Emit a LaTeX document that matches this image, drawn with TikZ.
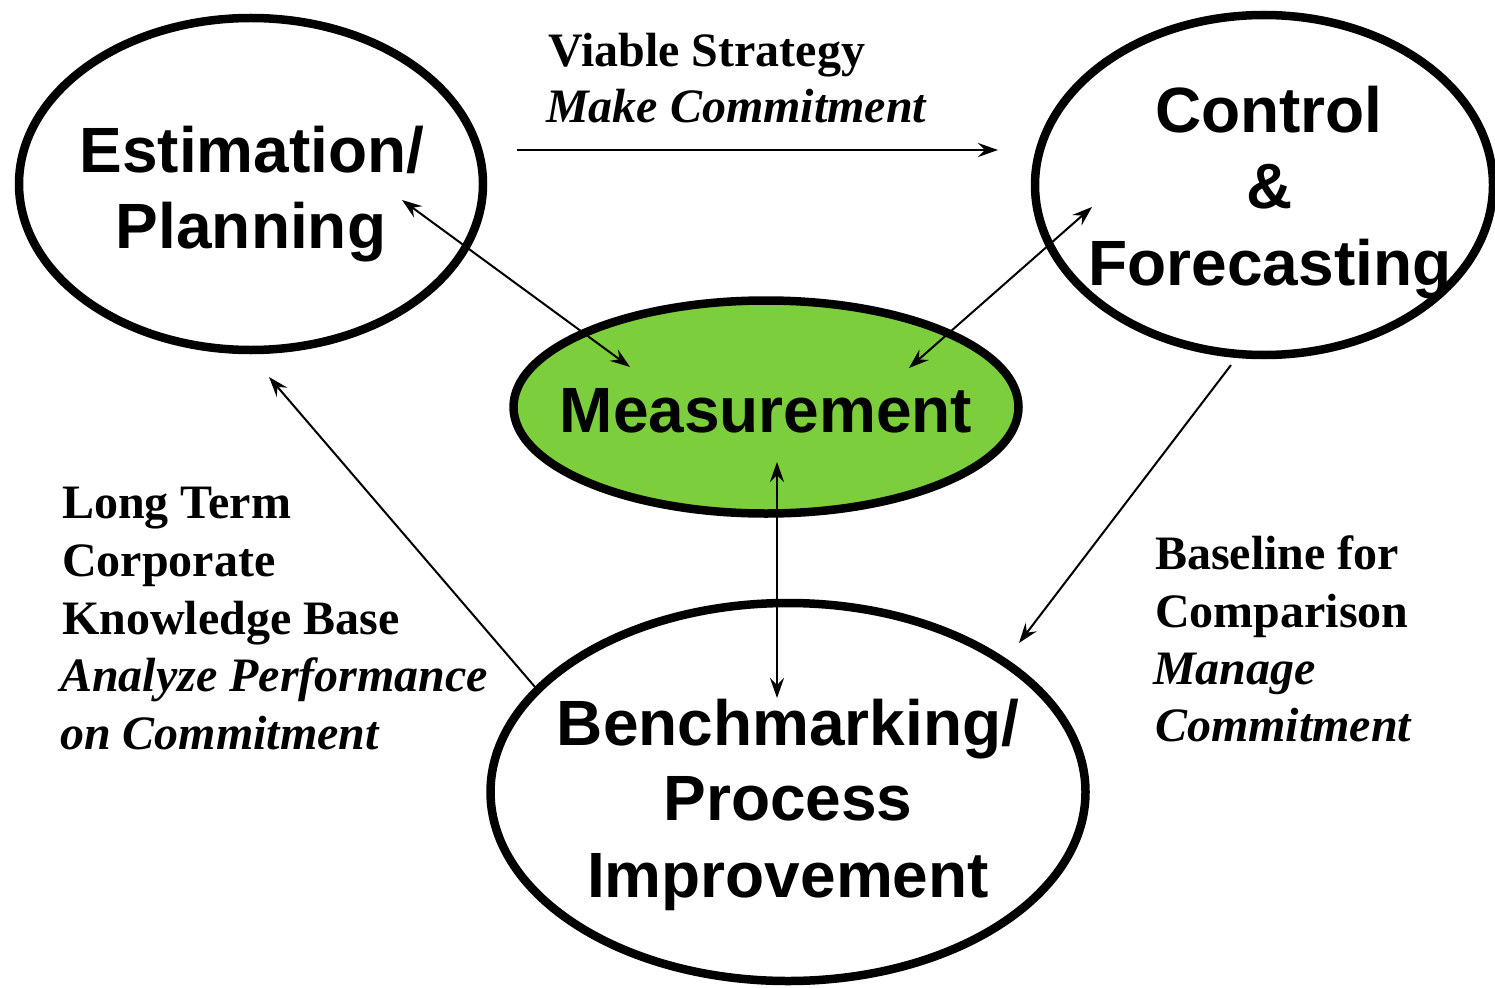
\documentclass[tikz,border=0pt]{standalone}
\usepackage{fontspec}
\setmainfont{Liberation Serif}
\newfontfamily\hvfont{Liberation Sans}
\usetikzlibrary{shapes.geometric,arrows.meta}
\definecolor{measgreen}{RGB}{125,206,60}
\tikzset{
  bubble/.style={ellipse, draw=black, line width=8.5pt, inner sep=0pt},
  bigtxt/.style={anchor=base, inner sep=0pt, font=\hvfont\bfseries\fontsize{64}{76}\selectfont},
  captxt/.style={anchor=base west, inner sep=0pt, font=\bfseries\fontsize{48}{58}\selectfont},
  capit/.style={anchor=base west, inner sep=0pt, font=\bfseries\itshape\fontsize{48}{58}\selectfont},
  link/.style={line width=2pt, -{Stealth[length=20pt,width=14pt,inset=7pt]}},
  dlink/.style={line width=2pt, {Stealth[length=20pt,width=14pt,inset=7pt]}-{Stealth[length=20pt,width=14pt,inset=7pt]}}
}
\begin{document}
\begin{tikzpicture}[x=1pt,y=-1pt]
\useasboundingbox (0,0) rectangle (1495,987);
\fill[white] (0,0) rectangle (1495,987);

% ellipses
\node[bubble, minimum width=464pt, minimum height=332pt] (est) at (251,184) {};
\node[bubble, minimum width=458pt, minimum height=340pt] (ctl) at (1264,185) {};
\node[bubble, fill=measgreen, minimum width=505pt, minimum height=213pt] (meas) at (766,407) {};
\node[bubble, minimum width=595pt, minimum height=378pt] (bench) at (788,792) {};

% ellipse texts
\node[bigtxt] (est1) at (252,172) {Estimation/};
\node[bigtxt] (est2) at (251,248) {Planning};
\node[bigtxt] (ctl1) at (1269,133) {Control};
\node[bigtxt] (ctl2) at (1270,208) {\&};
\node[bigtxt] (ctl3) at (1270,285) {Forecasting};
\node[bigtxt] (meas1) at (766,432) {Measurement};
\node[bigtxt] (ben1) at (788,745) {Benchmarking/};
\node[bigtxt] (ben2) at (788,820) {Process};
\node[bigtxt] (ben3) at (788,897) {Improvement};

% labels
\node[captxt] (vs1) at (548,67) {Viable Strategy};
\node[capit] (vs2) at (546,123) {Make Commitment};

\node[captxt] (lt1) at (62,518) {Long Term};
\node[captxt] (lt2) at (62,576) {Corporate};
\node[captxt] (lt3) at (62,634) {Knowledge Base};
\node[capit] (lt4) at (60,691) {Analyze Performance};
\node[capit] (lt5) at (60,749) {on Commitment};

\node[captxt] (bl1) at (1155,569) {Baseline for};
\node[captxt] (bl2) at (1155,627) {Comparison};
\node[capit] (bl3) at (1153,684) {Manage};
\node[capit] (bl4) at (1155,741) {Commitment};

% connector end points
\coordinate (vsA) at (517,150);
\coordinate (vsB) at (998,150);
\coordinate (emA) at (402,200);
\coordinate (emB) at (630,367);
\coordinate (cmA) at (1092,207);
\coordinate (cmB) at (909,368);
\coordinate (mbA) at (777,462);
\coordinate (mbB) at (777,698);
\coordinate (beA) at (535,687);
\coordinate (beB) at (269,377);
\coordinate (cbA) at (1231,365);
\coordinate (cbB) at (1019,643);

% connectors
\draw[link] (vsA) -- (vsB);
\draw[dlink] (emA) -- (emB);
\draw[dlink] (cmA) -- (cmB);
\draw[dlink] (mbA) -- (mbB);
\draw[link] (beA) -- (beB);
\draw[link] (cbA) -- (cbB);
\end{tikzpicture}
\end{document}
